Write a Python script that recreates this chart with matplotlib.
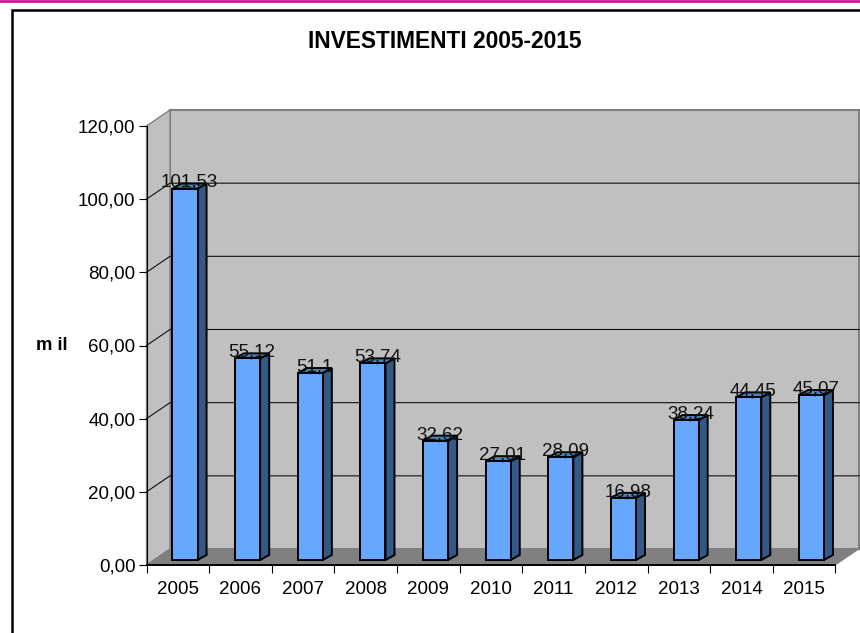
import matplotlib
matplotlib.use("Agg")
import matplotlib.pyplot as plt
from matplotlib.patches import Polygon
from matplotlib.lines import Line2D
from matplotlib.ticker import FuncFormatter

years = ["2005", "2006", "2007", "2008", "2009", "2010", "2011", "2012", "2013", "2014", "2015"]
values = [101.53, 55.12, 51.1, 53.74, 32.62, 27.01, 28.09, 16.98, 38.24, 44.45, 45.07]
y_ticks = [0, 20, 40, 60, 80, 100, 120]

plt.rcParams["font.family"] = ["Liberation Sans", "DejaVu Sans"]

W, H = 860, 633
fig = plt.figure(figsize=(W / 100, H / 100), dpi=100)
ax = fig.add_axes([146.5 / W, (H - 565) / H, 689 / W, 439 / H])
ax.set_xlim(-0.5, 10.5)
ax.set_ylim(0, 120)
ax.patch.set_visible(False)

# fake 3d depth, in data units
wall_dx = 23.5 / (689 / 11)
wall_dy = 16 / (439 / 120)
bar_w = 0.4
bar_shift = 0.115
bar_base = 1.37
bar_dx = 0.144
bar_dy = 1.37

x0, x1 = -0.5, 10.5
y1 = 120
wall = "#c0c0c0"
edge = "#808080"

# walls and floor
ax.add_patch(Polygon([(x0 + wall_dx, wall_dy), (x1 + wall_dx, wall_dy), (x1 + wall_dx, y1 + wall_dy), (x0 + wall_dx, y1 + wall_dy)],
                     fc=wall, ec=edge, lw=1.5, clip_on=False, zorder=1))
ax.add_patch(Polygon([(x0, 0), (x0 + wall_dx, wall_dy), (x0 + wall_dx, y1 + wall_dy), (x0, y1)],
                     fc=wall, ec=edge, lw=1, clip_on=False, zorder=1))
ax.add_patch(Polygon([(x0, 0), (x1, 0), (x1 + wall_dx, wall_dy), (x0 + wall_dx, wall_dy)],
                     fc=edge, ec=edge, lw=0.5, clip_on=False, zorder=1.5))

# gridlines on the back wall, diagonals on the side wall
for t in y_ticks[1:-1]:
    ax.plot([x0, x0 + wall_dx, x1 + wall_dx], [t, t + wall_dy, t + wall_dy], color="#111111", lw=0.8,
            clip_on=False, zorder=2, solid_joinstyle="miter")

# bars
xs = [i + bar_shift for i in range(len(values))]
ax.bar(xs, values, width=bar_w, bottom=bar_base, color="#66a8ff", edgecolor="black", lw=1.4, zorder=4, clip_on=False)
for x, v in zip(xs, values):
    left, right = x - bar_w / 2, x + bar_w / 2
    top = v + bar_base
    ax.add_patch(Polygon([(right, bar_base), (right + bar_dx, bar_base + bar_dy), (right + bar_dx, top + bar_dy), (right, top)],
                         fc="#335a87", ec="black", lw=1.4, clip_on=False, zorder=3.5))
    ax.add_patch(Polygon([(left, top), (right, top), (right + bar_dx, top + bar_dy), (left + bar_dx, top + bar_dy)],
                         fc="#4f81bd", ec="black", lw=1.4, clip_on=False, zorder=3.5))
    ax.text(x + bar_dx / 2, top + bar_dy + 0.3, str(v).replace(".", ","), ha="center", va="center",
            fontsize=13.5, color="#111111", zorder=6, clip_on=False)

# axes
for side in ["top", "right"]:
    ax.spines[side].set_visible(False)
ax.spines["left"].set_linewidth(0.8)
ax.spines["bottom"].set_linewidth(1.4)
ax.spines["left"].set_zorder(5)
ax.spines["bottom"].set_zorder(5)
ax.set_yticks(y_ticks)
ax.yaxis.set_major_formatter(FuncFormatter(lambda v, _: f"{v:.2f}".replace(".", ",")))
ax.tick_params(axis="y", length=5.5, width=0.8, pad=2.5, labelsize=13.5)
ax.set_xticks([i - 0.5 for i in range(len(years) + 1)])
ax.set_xticklabels([])
ax.tick_params(axis="x", length=5.5, width=0.8)
for i, year in enumerate(years):
    ax.annotate(year, (i, 0), xytext=(0, -25), xycoords="data", textcoords="offset pixels",
                ha="center", va="center", fontsize=13.5)

fig.text(445 / W, 1 - 41 / H, "INVESTIMENTI 2005-2015", ha="center", va="center", fontsize=16.4, fontweight="bold")
fig.text(52 / W, 1 - 345 / H, "m il", ha="center", va="center", fontsize=13.3, fontweight="bold")

# pink rule and chart frame
fig.add_artist(Line2D([0, 1], [1 - 1.2 / H, 1 - 1.2 / H], color="#d9008c", lw=1.9))
fig.add_artist(Line2D([12 / W, 12 / W, 1], [0, 1 - 10 / H, 1 - 10 / H], color="black", lw=1.8, solid_joinstyle="miter"))

fig.savefig("out.png", dpi=100)
